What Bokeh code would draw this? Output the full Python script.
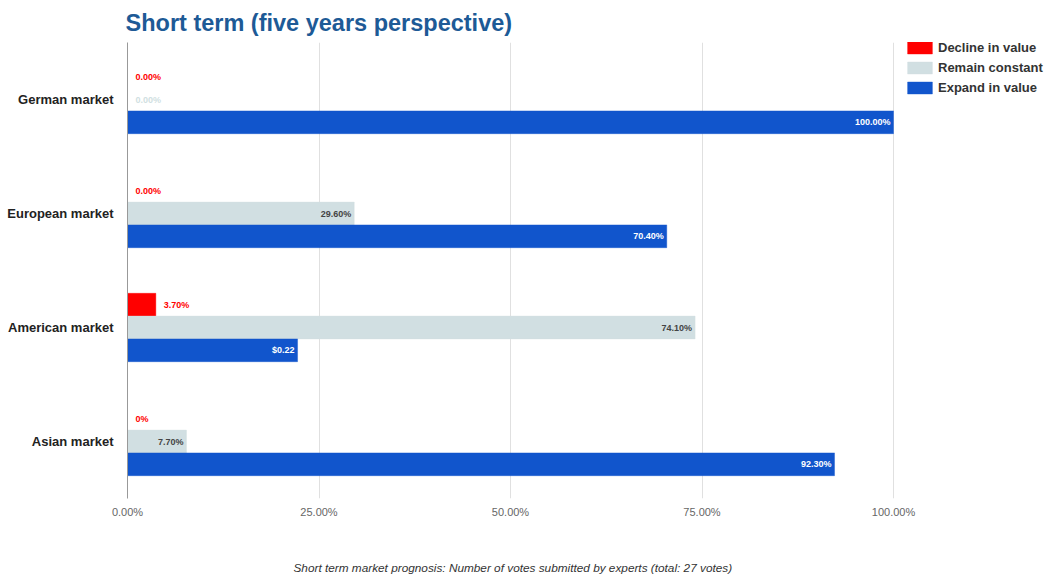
from bokeh.plotting import figure
from bokeh.models import ColumnDataSource, FactorRange, Range1d, NumeralTickFormatter, Legend, LegendItem, Title
from bokeh.transform import dodge
from bokeh.core.properties import value
from bokeh.embed import file_html
from bokeh.resources import INLINE

markets = ["German market", "European market", "American market", "Asian market"]
decline = [0.0, 0.0, 0.037, 0.0]
constant = [0.0, 0.296, 0.741, 0.077]
expand = [1.0, 0.704, 0.222, 0.923]
decline_labels = ["0.00%", "0.00%", "3.70%", "0%"]
constant_labels = ["0.00%", "29.60%", "74.10%", "7.70%"]
expand_labels = ["100.00%", "70.40%", "$0.22", "92.30%"]
series_names = ["Decline in value", "Remain constant", "Expand in value"]
colors = ["#ff0000", "#d1dfe2", "#1155cc"]
label_colors = ["#ff0000", "#444444", "#ffffff"]
ticks = [0, 0.25, 0.5, 0.75, 1.0]

FONT = "Liberation Sans"

# plot area: axis at x=127, 100% at x=893, frame extends to canvas edge to host legend
W, H = 1048, 574
LEFT, TOP, BOTTOM = 127, 42, 74
FULL = 893 - LEFT
x_end = (W - LEFT) / FULL

src = ColumnDataSource(dict(market=markets, decline=decline, constant=constant, expand=expand))

p = figure(width=W, height=H, output_backend="svg", toolbar_location=None,
           y_range=FactorRange(factors=markets[::-1], range_padding=0),
           x_range=Range1d(0, x_end),
           min_border_left=LEFT, min_border_right=0, min_border_top=TOP, min_border_bottom=BOTTOM,
           title="Short term (five years perspective)")
p.outline_line_color = None
p.background_fill_color = "white"
p.border_fill_color = "white"

p.title.text_font = FONT
p.title.text_font_size = "23.5px"
p.title.text_font_style = "bold"
p.title.text_color = "#1d5a96"
p.title.offset = -2
p.title.standoff = 14

offsets = [0.2, 0.0, -0.2]
fields = ["decline", "constant", "expand"]
renderers = []
for f, off, c in zip(fields, offsets, colors):
    r = p.hbar(y=dodge("market", off, range=p.y_range), right=f, left=0, height=0.2,
               source=src, fill_color=c, line_color=c, line_alpha=0.4)
    renderers.append(r)

# labels
vals = [decline, constant, expand]
labs = [decline_labels, constant_labels, expand_labels]
for i, (off, lc) in enumerate(zip(offsets, label_colors)):
    out_x, out_y, out_t, out_c = [], [], [], []
    in_x, in_y, in_t = [], [], []
    for m, v, t in zip(markets, vals[i], labs[i]):
        if i == 0 or v == 0:
            out_x.append(v); out_y.append(m); out_t.append(t)
            out_c.append(colors[i] if i > 0 else label_colors[0])
        else:
            in_x.append(v); in_y.append(m); in_t.append(t)
    if out_x:
        s = ColumnDataSource(dict(x=out_x, y=out_y, t=out_t, c=out_c))
        p.text(x="x", y=dodge("y", off, range=p.y_range), text="t", source=s, x_offset=8,
               text_align="left", text_baseline="middle", text_color="c",
               text_font=value(FONT), text_font_size="9px", text_font_style="bold")
    if in_x:
        s = ColumnDataSource(dict(x=in_x, y=in_y, t=in_t))
        p.text(x="x", y=dodge("y", off, range=p.y_range), text="t", source=s, x_offset=-3,
               text_align="right", text_baseline="middle", text_color=lc,
               text_font=value(FONT), text_font_size="9px", text_font_style="bold")

# axes
p.xaxis.ticker = ticks
p.xaxis.formatter = NumeralTickFormatter(format="0.00%")
p.xaxis.axis_line_color = None
p.xaxis.major_tick_line_color = None
p.xaxis.minor_tick_line_color = None
p.xaxis.major_tick_out = 0
p.xaxis.minor_tick_out = 0
p.xaxis.major_label_text_font = FONT
p.xaxis.major_label_text_font_size = "11px"
p.xaxis.major_label_text_color = "#666666"
p.xaxis.major_label_standoff = 7

# near-invisible spacer title between the axis and the footer note
spacer = Title(text=" ", standoff=35, text_font_size="1px", text_color="white")
p.add_layout(spacer, "below")
footer = Title(text="Short term market prognosis: Number of votes submitted by experts (total: 27 votes)",
               align="left", offset=293 - LEFT, standoff=0,
               text_font=FONT, text_font_size="11.8px", text_font_style="italic",
               text_color="#333333")
p.add_layout(footer, "below")

p.yaxis.axis_line_color = "#999999"
p.yaxis.major_tick_line_color = None
p.yaxis.minor_tick_line_color = None
p.yaxis.major_tick_out = 0
p.yaxis.minor_tick_out = 0
p.yaxis.major_label_text_font = FONT
p.yaxis.major_label_text_font_size = "13px"
p.yaxis.major_label_text_font_style = "bold"
p.yaxis.major_label_text_color = "#222222"
p.yaxis.major_label_standoff = 14

p.xgrid.grid_line_color = "#e0e0e0"
p.ygrid.grid_line_color = None

legend = Legend(items=[LegendItem(label=n, renderers=[r]) for n, r in zip(series_names, renderers)],
                location=(777, 403), padding=0, margin=0, spacing=5,
                glyph_width=31, glyph_height=15, label_height=13,
                label_text_font=FONT, label_text_font_size="13px", label_text_font_style="bold",
                label_text_color="#333333", label_standoff=3,
                border_line_color=None, background_fill_alpha=0)
p.add_layout(legend, "center")

open("out.html", "w").write(file_html(p, INLINE))
